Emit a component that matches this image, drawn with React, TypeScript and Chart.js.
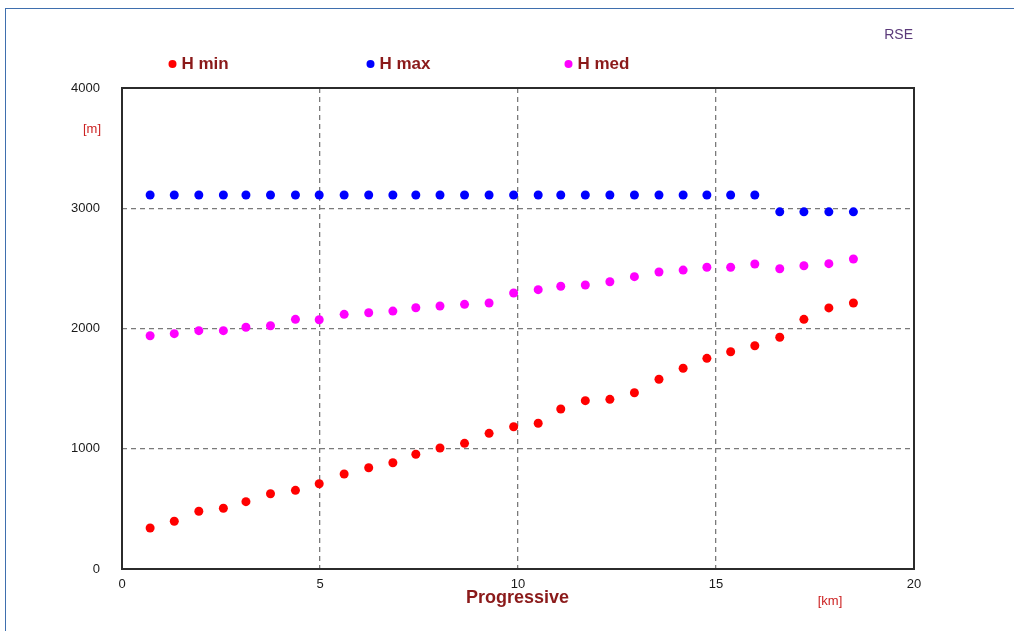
import React, { useEffect, useRef } from "react";
import { Chart, registerables } from "chart.js";

Chart.register(...registerables);

// Progressive distance along the route [km]
const progressiveKm = [
  0.71, 1.32, 1.94, 2.56, 3.13, 3.75, 4.38, 4.98, 5.61, 6.23,
  6.84, 7.42, 8.03, 8.65, 9.27, 9.89, 10.51, 11.08, 11.7, 12.32,
  12.94, 13.56, 14.17, 14.77, 15.37, 15.98, 16.61, 17.22, 17.85, 18.47,
];

// Elevations [m]
const hMin = [
  341, 397, 480, 505, 560, 626, 654, 709, 790, 842,
  884, 954, 1006, 1045, 1128, 1183, 1212, 1331, 1400, 1411,
  1466, 1578, 1669, 1752, 1807, 1857, 1927, 2076, 2171, 2212,
];
const hMax = [
  3110, 3110, 3110, 3110, 3110, 3110, 3110, 3110, 3110, 3110,
  3110, 3110, 3110, 3110, 3110, 3110, 3110, 3110, 3110, 3110,
  3110, 3110, 3110, 3110, 3110, 3110, 2970, 2970, 2970, 2970,
];
const hMed = [
  1940, 1957, 1982, 1982, 2010, 2023, 2076, 2073, 2118, 2131,
  2145, 2173, 2187, 2201, 2212, 2295, 2323, 2351, 2362, 2389,
  2431, 2470, 2486, 2509, 2509, 2536, 2497, 2522, 2539, 2578,
];

const seriesNames = ["H min", "H max", "H med"];
const seriesColors = ["#ff0000", "#0000ff", "#ff00ff"];
const xTicks = [0, 5, 10, 15, 20];
const yTicks = [0, 1000, 2000, 3000, 4000];

const FONT = '"Liberation Sans", Arial, sans-serif';

const toPoints = (ys: number[]) => ys.map((y, i) => ({ x: progressiveKm[i], y }));

const annotations = {
  id: "annotations",
  afterDraw(chart: any) {
    const { ctx, chartArea } = chart;
    const { left, right, top, bottom } = chartArea;
    ctx.save();

    // plot frame
    ctx.strokeStyle = "#2b2b2b";
    ctx.lineWidth = 2;
    ctx.setLineDash([]);
    ctx.strokeRect(left, top, right - left, bottom - top);

    // legend row
    ctx.textBaseline = "middle";
    ctx.textAlign = "left";
    ctx.font = `bold 17px ${FONT}`;
    seriesNames.forEach((name, i) => {
      const cx = left + 50.5 + i * 198;
      const cy = top - 24;
      ctx.beginPath();
      ctx.fillStyle = seriesColors[i];
      ctx.arc(cx, cy, 4, 0, Math.PI * 2);
      ctx.fill();
      ctx.fillStyle = "#8b1a1a";
      ctx.fillText(name, cx + 9, cy + 0.5);
    });

    // corner tag
    ctx.font = `14px ${FONT}`;
    ctx.fillStyle = "#5b3a7a";
    ctx.textAlign = "right";
    ctx.fillText("RSE", right - 1, 35);

    // units
    ctx.font = `13px ${FONT}`;
    ctx.fillStyle = "#cc2222";
    ctx.textAlign = "right";
    ctx.fillText("[m]", left - 21, top + 41);
    ctx.textAlign = "center";
    ctx.fillText("[km]", left + 708, bottom + 32);

    // axis title
    ctx.font = `bold 18px ${FONT}`;
    ctx.fillStyle = "#8b1a1a";
    ctx.fillText("Progressive", (left + right) / 2 - 0.5, bottom + 29);

    ctx.restore();
  },
};

export default function App() {
  const canvasRef = useRef<HTMLCanvasElement | null>(null);

  useEffect(() => {
    const canvas = canvasRef.current;
    if (!canvas) return;
    const chart = new Chart(canvas, {
      type: "scatter",
      data: {
        datasets: [hMin, hMax, hMed].map((ys, i) => ({
          label: seriesNames[i],
          data: toPoints(ys),
          backgroundColor: seriesColors[i],
          borderColor: seriesColors[i],
          borderWidth: 0,
          pointRadius: 4.5,
          pointHoverRadius: 4.5,
        })),
      },
      options: {
        animation: false,
        responsive: false,
        maintainAspectRatio: false,
        layout: { padding: { top: 88, right: 100, bottom: 0, left: 0 } },
        plugins: {
          legend: { display: false },
          tooltip: { enabled: false },
          title: { display: false },
        },
        scales: {
          x: {
            type: "linear",
            min: 0,
            max: 20,
            afterFit: (scale: any) => {
              scale.height = 62;
            },
            afterBuildTicks: (scale: any) => {
              scale.ticks = xTicks.map((v) => ({ value: v }));
            },
            ticks: {
              color: "#1a1a1a",
              font: { family: FONT, size: 13 },
              padding: 8,
              maxRotation: 0,
              callback: (v: any) => String(v),
            },
            grid: {
              drawTicks: false,
              lineWidth: 1.3,
              color: (c: any) =>
                c.tick && (c.tick.value === 0 || c.tick.value === 20) ? "rgba(0,0,0,0)" : "#7a7a7a",
            },
            border: { display: false, dash: [5, 4] },
          },
          y: {
            type: "linear",
            min: 0,
            max: 4000,
            afterFit: (scale: any) => {
              scale.width = 122;
            },
            afterBuildTicks: (scale: any) => {
              scale.ticks = yTicks.map((v) => ({ value: v }));
            },
            ticks: {
              color: "#1a1a1a",
              font: { family: FONT, size: 13 },
              padding: 22,
              callback: (v: any) => String(v),
            },
            grid: {
              drawTicks: false,
              lineWidth: 1.3,
              color: (c: any) =>
                c.tick && (c.tick.value === 0 || c.tick.value === 4000) ? "rgba(0,0,0,0)" : "#7a7a7a",
            },
            border: { display: false, dash: [5, 4] },
          },
        },
      },
      plugins: [annotations],
    });
    return () => chart.destroy();
  }, []);

  return (
    <div
      style={{
        position: "fixed",
        left: 0,
        top: 0,
        width: 1014,
        height: 631,
        overflow: "hidden",
        background: "#ffffff",
      }}
    >
      <div
        style={{
          position: "absolute",
          left: 5,
          top: 8,
          width: 2000,
          height: 2000,
          borderLeft: "1px solid #3f6fae",
          borderTop: "1px solid #3f6fae",
        }}
      />
      <canvas
        ref={canvasRef}
        width={1014}
        height={631}
        style={{ position: "absolute", left: 0, top: 0, width: 1014, height: 631 }}
      />
    </div>
  );
}
